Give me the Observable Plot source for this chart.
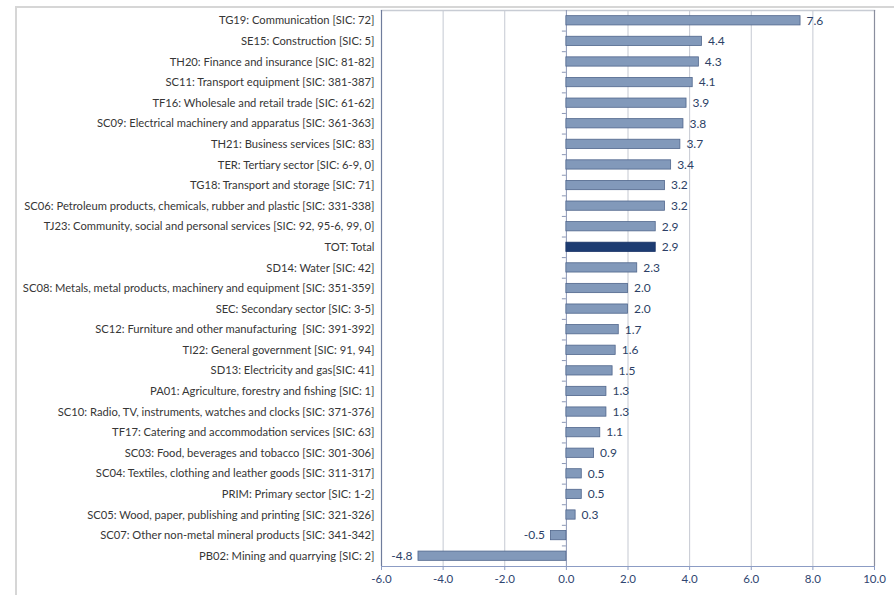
<!DOCTYPE html>
<html>
<head>
<meta charset="utf-8">
<script src="https://cdn.jsdelivr.net/npm/d3@7"></script>
<script src="https://cdn.jsdelivr.net/npm/@observablehq/plot@0.6"></script>
<style>
  html, body { margin: 0; padding: 0; background: #fff; }
  #wrap { position: relative; width: 894px; height: 595px; overflow: hidden; }
  #frame { position: absolute; left: 15px; top: 6px; width: 900px; height: 600px;
           border-left: 2px solid #d6d6d6; border-top: 2px solid #d6d6d6; pointer-events: none; }
  #chart { position: absolute; left: 0; top: 0; }
</style>
</head>
<body>
<div id="wrap"><div id="frame"></div><div id="chart"></div></div>
<script>
const categories = [
  "TG19: Communication [SIC: 72]",
  "SE15: Construction [SIC: 5]",
  "TH20: Finance and insurance [SIC: 81-82]",
  "SC11: Transport equipment [SIC: 381-387]",
  "TF16: Wholesale and retail trade [SIC: 61-62]",
  "SC09: Electrical machinery and apparatus [SIC: 361-363]",
  "TH21: Business services [SIC: 83]",
  "TER: Tertiary sector [SIC: 6-9, 0]",
  "TG18: Transport and storage [SIC: 71]",
  "SC06: Petroleum products, chemicals, rubber and plastic [SIC: 331-338]",
  "TJ23: Community, social and personal services [SIC: 92, 95-6, 99, 0]",
  "TOT: Total",
  "SD14: Water [SIC: 42]",
  "SC08: Metals, metal products, machinery and equipment [SIC: 351-359]",
  "SEC: Secondary sector [SIC: 3-5]",
  "SC12: Furniture and other manufacturing  [SIC: 391-392]",
  "TI22: General government [SIC: 91, 94]",
  "SD13: Electricity and gas[SIC: 41]",
  "PA01: Agriculture, forestry and fishing [SIC: 1]",
  "SC10: Radio, TV, instruments, watches and clocks [SIC: 371-376]",
  "TF17: Catering and accommodation services [SIC: 63]",
  "SC03: Food, beverages and tobacco [SIC: 301-306]",
  "SC04: Textiles, clothing and leather goods [SIC: 311-317]",
  "PRIM: Primary sector [SIC: 1-2]",
  "SC05: Wood, paper, publishing and printing [SIC: 321-326]",
  "SC07: Other non-metal mineral products [SIC: 341-342]",
  "PB02: Mining and quarrying [SIC: 2]"
];
const values = [7.6, 4.4, 4.3, 4.1, 3.9, 3.8, 3.7, 3.4, 3.2, 3.2, 2.9, 2.9, 2.3, 2.0, 2.0, 1.7, 1.6, 1.5, 1.3, 1.3, 1.1, 0.9, 0.5, 0.5, 0.3, -0.5, -4.8];
const highlight = ["TOT: Total"];
const xTicks = [-6, -4, -2, 0, 2, 4, 6, 8, 10];
const xDomain = [-6, 10];

const data = categories.map((c, i) => ({category: c, value: values[i], total: highlight.includes(c)}));

const W = 894, H = 595;
const mTop = 10, mBottom = 29, mLeft = 381, mRight = 20;
const step = (H - mTop - mBottom) / categories.length;
const fmt = d => d.toFixed(1);
const font = "Lato, 'Open Sans', sans-serif";

const chart = Plot.plot({
  width: W,
  height: H,
  marginTop: mTop,
  marginBottom: mBottom,
  marginLeft: mLeft,
  marginRight: mRight,
  style: {fontFamily: font, fontSize: "11px", background: "transparent", overflow: "visible"},
  x: {domain: xDomain, ticks: xTicks, tickFormat: fmt},
  y: {domain: categories, paddingInner: 0.55, paddingOuter: 0.275, round: false},
  marks: [
    // gridlines
    Plot.ruleX(xTicks.filter(t => t !== 0 && t !== xDomain[0] && t !== xDomain[1]), {stroke: "#c5c9d2", strokeWidth: 1}),
    // top frame
    Plot.frame({anchor: "top", stroke: "#c8ccd4", strokeWidth: 1.5}),
    // right frame
    Plot.ruleX([xDomain[1]], {stroke: "#8a8e9e", strokeWidth: 1.2}),
    // left axis line
    Plot.ruleX([xDomain[0]], {stroke: "#6f7c9c", strokeWidth: 1.2}),
    // zero line
    Plot.ruleX([0], {stroke: "#8a96b4", strokeWidth: 1}),
    // small category ticks on the zero line
    Plot.ruleY(categories, {y: d => d, x1: -0.13, x2: 0, dy: step / 2, stroke: "#8a96b4", strokeWidth: 1}),
    // bars
    Plot.barX(data, {
      y: "category", x1: 0, x2: "value",
      fill: d => d.total ? "#1d3c72" : "#8299ba",
      stroke: d => d.total ? "#1a3466" : "#50668c",
      strokeWidth: 0.8
    }),
    // value labels
    Plot.text(data.filter(d => d.value >= 0), {
      y: "category", x: "value", text: d => fmt(d.value),
      textAnchor: "start", dx: 6, fill: "#2c3f66", fontSize: 12
    }),
    Plot.text(data.filter(d => d.value < 0), {
      y: "category", x: "value", text: d => fmt(d.value),
      textAnchor: "end", dx: -6, fill: "#2c3f66", fontSize: 12
    }),
    // bottom axis
    Plot.ruleY([0], {y: () => categories[categories.length - 1], dy: step / 2, stroke: "#8c9cc4", strokeWidth: 1.2}),
    Plot.axisX({anchor: "bottom", ticks: xTicks, tickFormat: fmt, tickSize: 4, tickPadding: 4,
                stroke: "#8c9cc4", color: "#2f4570", fontSize: 11.5, label: null}),
    Plot.axisY({anchor: "left", tickSize: 0, tickPadding: 7, color: "#363636", fontSize: 11.2, label: null})
  ]
});
document.getElementById("chart").appendChild(chart);
</script>
</body>
</html>
